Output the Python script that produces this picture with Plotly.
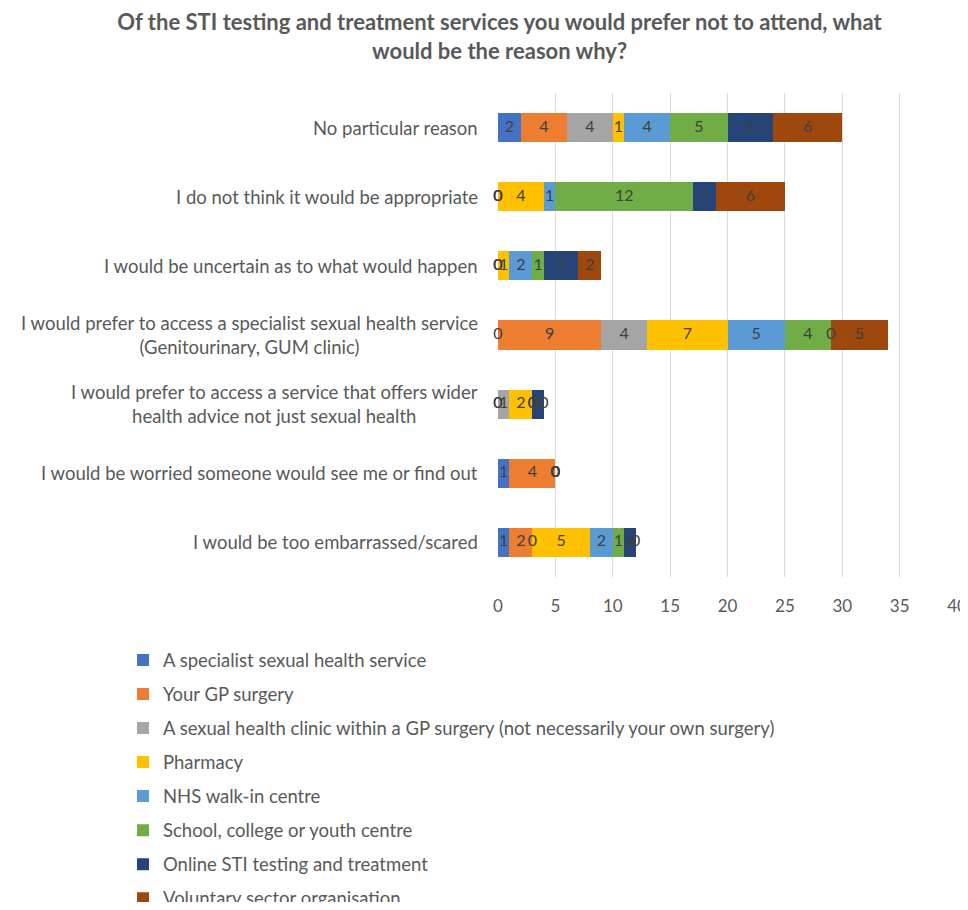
import plotly.graph_objects as go

categories = [
    "No particular reason",
    "I do not think it would be appropriate",
    "I would be uncertain as to what would happen",
    "I would prefer to access a specialist sexual health service<br>(Genitourinary, GUM clinic)",
    "I would prefer to access a service that offers wider<br>health advice not just sexual health",
    "I would be worried someone would see me or find out",
    "I would be too embarrassed/scared",
]

series_names = [
    "A specialist sexual health service",
    "Your GP surgery",
    "A sexual health clinic within a GP surgery (not necessarily your own surgery)",
    "Pharmacy",
    "NHS walk-in centre",
    "School, college or youth centre",
    "Online STI testing and treatment",
    "Voluntary sector organisation",
]

specialist = [2, 0, 0, 0, 0, 1, 1]
gp_surgery = [4, 0, 0, 9, 0, 4, 2]
gp_clinic = [4, 0, 0, 4, 1, 0, 0]
pharmacy = [1, 4, 1, 7, 2, 0, 5]
walk_in = [4, 1, 2, 5, 0, 0, 2]
school = [5, 12, 1, 4, 0, 0, 1]
online = [4, 2, 3, 0, 1, 0, 1]
voluntary = [6, 6, 2, 5, 0, 0, 0]

series_values = [specialist, gp_surgery, gp_clinic, pharmacy, walk_in, school, online, voluntary]

colors = ["#4472C4", "#ED7D31", "#A5A5A5", "#FFC000", "#5B9BD5", "#70AD47", "#264478", "#9E480E"]

FONT = "Lato"
TXT = "#595959"

fig = go.Figure()
for name, vals, col in zip(series_names, series_values, colors):
    fig.add_trace(go.Bar(
        y=categories, x=vals, name=name, orientation="h",
        marker=dict(color=col, line=dict(width=0)),
        legendgroup=name, hoverinfo="x+name",
    ))

# data labels (centered on each segment, computed from the data)
cum = [0] * len(categories)
lab_x, lab_y, lab_t = [], [], []
for vals in series_values:
    for i, v in enumerate(vals):
        lab_x.append(cum[i] + v / 2)
        lab_y.append(categories[i])
        lab_t.append(str(v))
        cum[i] += v
fig.add_trace(go.Scatter(
    x=lab_x, y=lab_y, text=lab_t, mode="text", cliponaxis=False,
    textfont=dict(family=FONT, size=16, color="#404040"),
    showlegend=False, hoverinfo="skip",
))

# category labels (centre-aligned multi-line, right-anchored next to the axis)
for c in categories:
    fig.add_annotation(
        x=0, y=c, xref="x", yref="y", text=c, showarrow=False,
        xanchor="right", yanchor="middle", align="center", xshift=-18,
        font=dict(family=FONT, size=18.5, color=TXT),
    )

fig.update_layout(
    width=960, height=894,
    barmode="stack", bargap=0.58,
    paper_bgcolor="white", plot_bgcolor="white",
    margin=dict(l=490, r=11, t=85, b=325, autoexpand=False),
    title=dict(
        text="<b>Of the STI testing and treatment services you would prefer not to attend, what<br>would be the reason why?</b>",
        x=0.512, xanchor="center", y=0.9754, yanchor="top",
        font=dict(family=FONT, size=22, color=TXT),
    ),
    font=dict(family=FONT, size=16, color=TXT),
    xaxis=dict(
        range=[0, 40], dtick=5, showgrid=True, gridcolor="#D9D9D9", gridwidth=1.3,
        zeroline=False, showline=False, ticks="",
        tickfont=dict(family=FONT, size=17, color=TXT), ticklabelstandoff=17,
    ),
    yaxis=dict(
        autorange="reversed", showgrid=False, zeroline=False, showline=False,
        ticks="", showticklabels=False,
    ),
    legend=dict(
        orientation="v", x=-0.817, xanchor="left", y=-0.133, yanchor="top",
        font=dict(family=FONT, size=18.5, color=TXT), tracegroupgap=7,
        itemwidth=30, bgcolor="rgba(0,0,0,0)",
    ),
    showlegend=True,
)

fig.write_html("out.html")
